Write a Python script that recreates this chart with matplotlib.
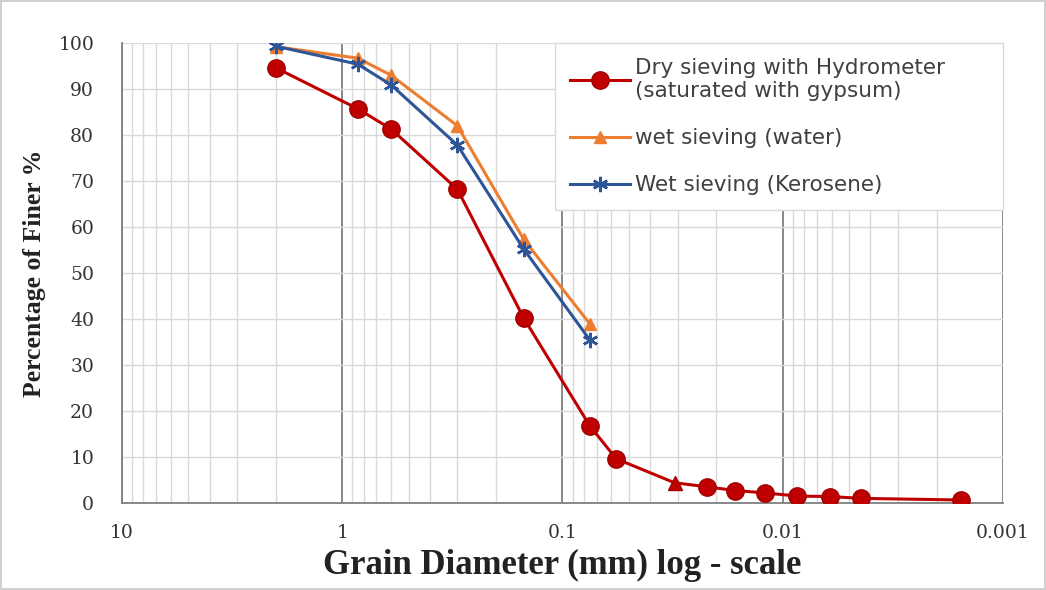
import matplotlib
matplotlib.use('Agg')
import matplotlib.pyplot as plt
from matplotlib.ticker import LogLocator, FixedLocator, NullFormatter

# grain diameter (mm) and percent finer
dry_d = [2.0, 0.85, 0.6, 0.3, 0.15, 0.075, 0.057, 0.031, 0.022, 0.0164,
         0.0121, 0.0086, 0.0061, 0.0044, 0.00155]
dry_p = [94.6, 85.7, 81.3, 68.2, 40.2, 16.7, 9.6, 4.4, 3.5, 2.7,
         2.2, 1.5, 1.4, 1.0, 0.65]
water_d = [2.0, 0.85, 0.6, 0.3, 0.15, 0.075]
water_p = [99.2, 96.7, 93.0, 82.0, 57.3, 38.9]
kero_d = [2.0, 0.85, 0.6, 0.3, 0.15, 0.075]
kero_p = [99.3, 95.4, 90.9, 77.8, 55.2, 35.4]

labels = ["Dry sieving with Hydrometer\n(saturated with gypsum)",
          "wet sieving (water)",
          "Wet sieving (Kerosene)"]
x_ticks = [10, 1, 0.1, 0.01, 0.001]
x_tick_labels = ["10", "1", "0.1", "0.01", "0.001"]
y_ticks = list(range(0, 101, 10))

RED = '#C00000'
ORANGE = '#ED7D31'
BLUE = '#2E5597'

fig = plt.figure(figsize=(10.46, 5.9), dpi=100)
fig.patch.set_edgecolor('#d0d0d0')
fig.patch.set_linewidth(1.5)
ax = fig.add_axes([0.1166, 0.1475, 0.8423, 0.7796])

ax.set_xscale('log')
ax.set_xlim(10, 0.001)
ax.set_ylim(0, 100)

# grid
ax.xaxis.set_major_locator(FixedLocator(x_ticks))
ax.xaxis.set_minor_locator(LogLocator(base=10, subs=range(2, 10), numticks=20))
ax.xaxis.set_minor_formatter(NullFormatter())
ax.set_xticks(x_ticks)
ax.set_xticklabels(x_tick_labels)
ax.set_yticks(y_ticks)
ax.grid(which='major', axis='x', color='#7f7f7f', lw=1.3)
ax.grid(which='minor', axis='x', color='#d9d9d9', lw=1.0)
ax.grid(which='major', axis='y', color='#d9d9d9', lw=1.0)
ax.set_axisbelow(True)
for s in ['top', 'right']:
    ax.spines[s].set_visible(False)
ax.spines['left'].set_color('#7f7f7f')
ax.spines['bottom'].set_color('#7f7f7f')
ax.spines['left'].set_linewidth(1.3)
ax.spines['bottom'].set_linewidth(1.3)
ax.tick_params(axis='y', which='both', length=0, pad=20)
ax.tick_params(axis='x', which='both', length=0, pad=15)
for t in ax.get_xticklabels() + ax.get_yticklabels():
    t.set_fontfamily('DejaVu Serif')
    t.set_fontsize(13.5)
    t.set_color('#333333')

# series
tri_idx = 7
dots = [i for i in range(len(dry_d)) if i != tri_idx]
l1, = ax.plot(dry_d, dry_p, color=RED, lw=2.2, marker='o', ms=12.5,
              mfc=RED, mec='#a00000', markevery=dots, label=labels[0], zorder=3)
ax.plot([dry_d[tri_idx]], [dry_p[tri_idx]], ls='none', marker='^', ms=10,
        color=RED, mec='#a00000', zorder=3)
l2, = ax.plot(water_d, water_p, color=ORANGE, lw=2.2, marker='^', ms=9,
              mfc=ORANGE, mec=ORANGE, label=labels[1], zorder=4)
l3, = ax.plot(kero_d, kero_p, color=BLUE, lw=2.2, marker=(6, 2, 0), ms=11,
              mec=BLUE, mew=1.8, label=labels[2], zorder=5)

leg = ax.legend(handles=[l1, l2, l3], loc='upper left',
                bbox_to_anchor=(0.4915, 0.0, 0.5085, 1.0), mode='expand',
                fancybox=False, framealpha=1, edgecolor='#d9d9d9',
                prop={'family': 'DejaVu Sans', 'size': 15.5}, labelspacing=1.25,
                handlelength=2.8, handletextpad=0.2, borderpad=0.7,
                borderaxespad=0)
for t in leg.get_texts():
    t.set_color('#404040')

ax.set_xlabel('Grain Diameter (mm) log - scale', fontfamily='Liberation Serif',
              fontsize=25, fontweight='bold', color='#222222', labelpad=5)
ax.set_ylabel('Percentage of Finer %', fontfamily='Liberation Serif',
              fontsize=18.5, fontweight='bold', color='#222222', labelpad=9)

fig.savefig('out.png', dpi=100)
